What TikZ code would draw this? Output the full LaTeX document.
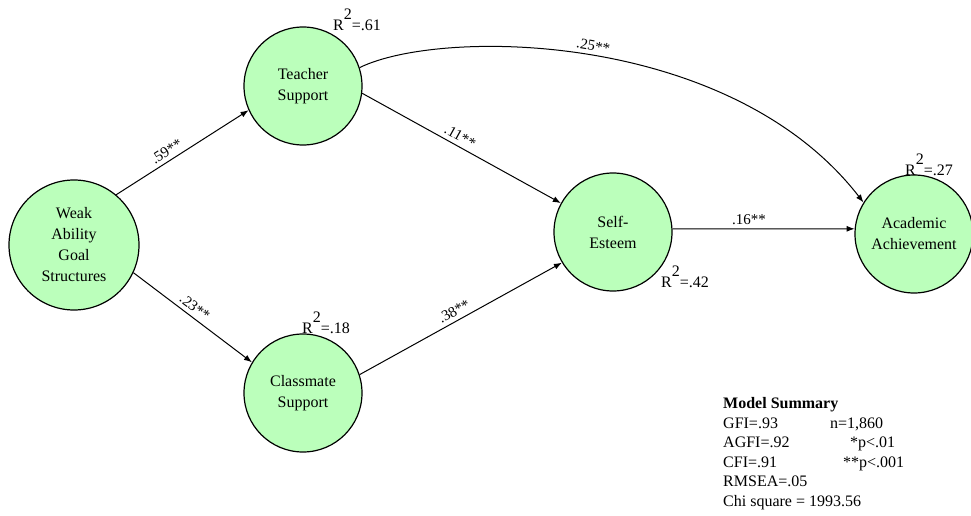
\documentclass[tikz,border=0pt]{standalone}
\usepackage{fontspec}
\setmainfont{Liberation Serif}
\usetikzlibrary{arrows.meta}
\definecolor{latentfill}{RGB}{187,255,187}
\newcommand{\rsqlabel}[1]{R\raisebox{11pt}{2}=#1}
\tikzset{
  latent/.style={circle, draw=black, line width=1.2pt, fill=latentfill,
    minimum size=118pt, inner sep=0pt, align=center,
    font=\fontsize{16}{21}\selectfont},
  path/.style={line width=1pt, -{Latex[length=8pt,width=6pt]}},
  coef/.style={font=\fontsize{15}{16}\selectfont, sloped, above, inner sep=4pt},
  rsq/.style={font=\fontsize{16}{16}\selectfont, inner sep=0pt, anchor=base west}
}
\begin{document}
\begin{tikzpicture}[x=1pt, y=-1pt]
\useasboundingbox (0,0) rectangle (971,516);

% latent variables
\node[latent, minimum size=130pt] (wa) at (74,245) {Weak\\Ability\\Goal\\Structures};
\node[latent] (ts) at (303,86) {Teacher\\Support};
\node[latent] (cs) at (303,393) {Classmate\\Support};
\node[latent] (se) at (613,232) {Self-\\Esteem};
\node[latent] (aa) at (914,234) {Academic\\Achievement};

% explained variance
\node[rsq] (r1) at (333,31) {\rsqlabel{.61}};
\node[rsq] (r2) at (302,333) {\rsqlabel{.18}};
\node[rsq] (r3) at (661,287) {\rsqlabel{.42}};
\node[rsq] (r4) at (905,175) {\rsqlabel{.27}};

% structural paths
\draw[path] (wa.50) -- node[coef, pos=0.42] {.59**} (ts.204);
\draw[path] (wa.-25) -- node[coef, pos=0.47] {.23**} (cs.149);
\draw[path] (ts.-7) -- node[coef, pos=0.47] {.11**} (se.151);
\draw[path] (cs.18) -- node[coef, pos=0.49] {.38**} (se.211);
\draw[path] (se.3) -- node[coef, pos=0.42] {.16**} (aa.175);
\draw[path] (ts.18) .. controls (440,28) and (730,30) .. node[coef, pos=0.5] {.25**} (aa.148);

% fit statistics (the node's base is the baseline of its last line)
\node[anchor=base west, align=left, inner sep=0pt,
      font=\fontsize{16}{19.5}\selectfont] (ms) at (723,506) {%
  \textbf{Model Summary}\\
  \makebox[107pt][l]{GFI=.93}n=1,860\\
  \makebox[127pt][l]{AGFI=.92}*p<.01\\
  \makebox[120pt][l]{CFI=.91}**p<.001\\
  RMSEA=.05\\
  Chi square = 1993.56};
\end{tikzpicture}
\end{document}
